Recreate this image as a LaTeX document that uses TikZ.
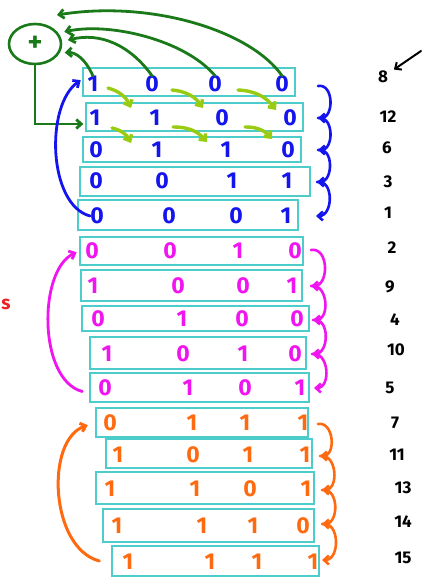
\documentclass[tikz,border=0pt]{standalone}
\usepackage{fontspec}
\setsansfont{Fira Sans}
\usetikzlibrary{arrows.meta,shapes.geometric}
\definecolor{blueink}{HTML}{1414EE}
\definecolor{pinkink}{HTML}{F014F0}
\definecolor{orangeink}{HTML}{FF6A10}
\definecolor{greenink}{HTML}{1A7A1A}
\definecolor{limeink}{HTML}{99CC11}
\definecolor{boxcol}{HTML}{4DCCCC}
\definecolor{redink}{HTML}{F02020}
\begin{document}
\begin{tikzpicture}[x=1pt,y=-1pt,
  rowbox/.style={draw=boxcol,line width=1.3pt,inner sep=0pt,rectangle},
  bit/.style={font=\sffamily\bfseries\fontsize{23}{23}\selectfont,inner sep=0pt},
  lbl/.style={font=\sffamily\bfseries\fontsize{17}{17}\selectfont,inner sep=0pt,text=black},
  ink/.style={line width=2.6pt,line cap=round,-{Straight Barb[length=5pt,width=9pt]}},
]
\useasboundingbox (0,0) rectangle (422,578);

% row boxes
\foreach \n/\cx/\cy/\w/\h in {
  1/189/82/212/28, 2/194.5/117/217/28, 3/192/149.5/218/25,
  4/195/181.5/230/29, 5/188/215/220/30,
  6/191.5/251/223/28, 7/191.5/285.5/221/31, 8/195.5/318.5/227/25,
  9/198/353/216/32, 10/199.5/387.5/219/29,
  11/202/422.5/212/29, 12/209/453.5/206/29, 13/205/488/218/32,
  14/208.5/525.5/211/33, 15/215.5/561/207/30}
  \node[rowbox,minimum width=\w pt,minimum height=\h pt] (r\n) at (\cx,\cy) {};

% bits
\foreach \n/\y/\c/\xa/\da/\xb/\db/\xc/\dc/\xd/\dd in {
  1/84/blueink/93/1/152/0/215/0/282/0,
  2/118/blueink/95/1/155/1/222/0/290/0,
  3/150/blueink/96/0/157/1/226/1/288/0,
  4/181/blueink/96/0/162/0/232/1/287/1,
  5/216/blueink/97/0/169/0/236/0/286/1,
  6/251/pinkink/92/0/170/0/238/1/295/0,
  7/286/pinkink/93/1/178/0/243/0/292/1,
  8/319/pinkink/98/0/182/1/242/0/297/0,
  9/354/pinkink/107/1/183/0/243/1/295/0,
  10/388/pinkink/105/0/188/1/245/0/300/1,
  11/423/orangeink/110/0/192/1/245/1/303/1,
  12/455/orangeink/118/1/193/0/248/1/305/1,
  13/489/orangeink/110/1/195/1/250/0/306/1,
  14/526/orangeink/117/1/202/1/253/1/303/0,
  15/562/orangeink/128/1/210/1/257/1/313/1}
{
  \node[bit,text=\c] (b\n a) at (\xa,\y) {\da};
  \node[bit,text=\c] (b\n b) at (\xb,\y) {\db};
  \node[bit,text=\c] (b\n c) at (\xc,\y) {\dc};
  \node[bit,text=\c] (b\n d) at (\xd,\y) {\dd};
}

% right labels
\foreach \n/\x/\y/\t in {
  1/383/77/8, 2/388/117/12, 3/387/148/6, 4/388/182/3, 5/388/213/1,
  6/392/248/2, 7/390/287/9, 8/395/320/4, 9/396/350/10, 10/390/388/5,
  11/395/423/7, 12/397/455/11, 13/403/488/13, 14/403/522/14, 15/403/558/15}
  \node[lbl] (l\n) at (\x,\y) {\t};

% black arrow
\coordinate (k1) at (421,51);
\draw[ink,draw=black,line width=2pt,shorten >=7pt] (k1) -- (l1);

% red s
\node[font=\sffamily\bfseries\fontsize{19}{19}\selectfont,text=redink,inner sep=0pt] (s) at (6,304) {s};

% right curly arrows
\foreach \n/\x/\y in {1/318/86, 2/318/118, 3/318/150, 4/317/182, 5/316/216,
  6/311/250, 7/311/286, 8/313/320, 9/312/354, 10/314/388,
  11/318/424, 12/320/456, 13/322/490, 14/322/524, 15/322/560}
  \coordinate (c\n) at (\x,\y);
\foreach \a/\b/\c in {1/2/blueink, 2/3/blueink, 3/4/blueink, 4/5/blueink,
  6/7/pinkink, 7/8/pinkink, 8/9/pinkink, 9/10/pinkink,
  11/12/orangeink, 12/13/orangeink, 13/14/orangeink, 14/15/orangeink}
  \draw[ink,draw=\c,line width=2.6pt] (c\a) to[out=10,in=0,looseness=1.3] (c\b);

% plus circle
\node[ellipse,draw=greenink,line width=2.6pt,minimum width=52pt,minimum height=40pt,
  inner sep=0pt,text=greenink,font=\sffamily\bfseries\fontsize{28}{28}\selectfont] (plus) at (35,44) {+};
\coordinate (g1) at (57,15);
\draw[ink,draw=greenink,line width=2.8pt] (b1d.north) .. controls (250,30) and (150,0) .. (g1);
\draw[ink,draw=greenink,line width=2.8pt,shorten >=6pt] (b1c.north) .. controls (185,40) and (110,22) .. (plus.25);
\draw[ink,draw=greenink,line width=2.8pt,shorten >=6pt] (b1b.north) .. controls (130,45) and (100,32) .. (plus.5);
\draw[ink,draw=greenink,line width=2.8pt,shorten >=5pt] (b1a.north) .. controls (85,58) and (75,52) .. (plus.-20);
\draw[ink,draw=greenink,line width=2.8pt,shorten >=2pt] (plus.south) |- ([yshift=-7pt]r2.west);

% lime arrows
\foreach \x/\y/\u/\v [count=\i] in {108/88/131/108, 172/90/203/108, 238/90/276/110,
  112/128/131/143, 173/127/207/142, 245/127/272/139}
{
  \coordinate (ys\i) at (\x,\y);
  \coordinate (ye\i) at (\u,\v);
  \draw[ink,draw=limeink,line width=3.4pt] (ys\i) to[bend left=25] (ye\i);
}

% left return arrows
\draw[ink,draw=blueink,line width=2.8pt,shorten >=2pt] (b5a.west) .. controls (48,205) and (45,105) .. ([yshift=3pt]r1.west);
\draw[ink,draw=pinkink,line width=2.8pt,shorten >=3pt] ([xshift=-7pt,yshift=-4pt]r10.west) .. controls (38,380) and (38,270) .. (r6.west);
\draw[ink,draw=orangeink,line width=3pt,shorten >=8pt] ([xshift=-12pt]r15.west) .. controls (50,548) and (45,440) .. (r11.west);
\end{tikzpicture}
\end{document}
